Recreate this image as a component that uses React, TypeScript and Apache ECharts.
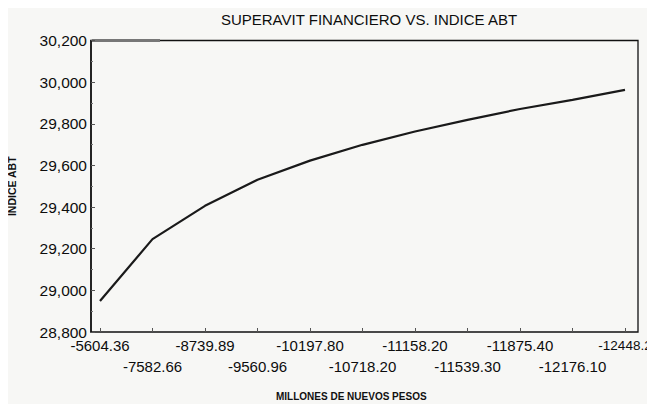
import React, { useEffect, useRef } from "react";
import * as echarts from "echarts";

const categories = [
  "-5604.36", "-7582.66", "-8739.89", "-9560.96", "-10197.80", "-10718.20",
  "-11158.20", "-11539.30", "-11875.40", "-12176.10", "-12448.2",
];
const indiceAbt = [28949, 29246, 29406, 29531, 29623, 29699, 29763, 29819, 29871, 29915, 29963];
const yMin = 28800;
const yMax = 30200;
const yStep = 200;

const FONT = "'Liberation Sans', Arial, sans-serif";

export default function App() {
  const ref = useRef<HTMLDivElement>(null);
  useEffect(() => {
    if (!ref.current) return;
    const chart = echarts.init(ref.current, undefined, { renderer: "svg" });
    const last = categories.length - 1;
    chart.setOption({
      animation: false,
      backgroundColor: "#f7f7f5",
      title: {
        text: "SUPERAVIT FINANCIERO VS. INDICE ABT",
        left: 364,
        top: 7,
        textAlign: "center",
        textStyle: { fontFamily: FONT, fontSize: 15, fontWeight: "normal", color: "#0d0d0d" },
      },
      grid: {
        left: 100,
        right: 30,
        top: 40.5,
        bottom: 80,
        containLabel: false,
        outerBoundsMode: "none",
      },
      xAxis: {
        type: "category",
        data: categories,
        boundaryGap: false,
        axisLine: { show: false },
        axisTick: { show: true, inside: true, length: 4, alignWithLabel: true, lineStyle: { color: "#555" } },
        axisLabel: {
          interval: 0,
          margin: 3,
          fontFamily: FONT,
          fontSize: 15,
          color: "#0d0d0d",
          lineHeight: 21,
          formatter: (v: string, i: number) =>
            i === last ? "{end|" + v + "}" : i % 2 === 1 ? "\n" + v : v,
          rich: {
            end: {
              fontFamily: FONT,
              fontSize: 13.5,
              color: "#0d0d0d",
              lineHeight: 21,
            },
          },
        },
        splitLine: { show: false },
      },
      yAxis: {
        type: "value",
        min: yMin,
        max: yMax,
        interval: yStep,
        offset: 9,
        name: "INDICE ABT",
        nameLocation: "middle",
        nameGap: 74,
        nameTextStyle: { fontFamily: FONT, fontSize: 10.5, fontWeight: "bold", color: "#111" },
        axisLine: { show: true, lineStyle: { color: "#111", width: 1.5 } },
        axisTick: { show: true, inside: true, length: 4, lineStyle: { color: "#555" } },
        minorTick: { show: true, splitNumber: 2, length: 2, lineStyle: { color: "#777" } },
        axisLabel: {
          fontFamily: FONT,
          fontSize: 15.5,
          color: "#0d0d0d",
          margin: 4,
          formatter: (v: number) => v.toLocaleString("en-US"),
        },
        splitLine: { show: false },
      },
      graphic: [
        {
          type: "rect",
          shape: { x: 91, y: 40.5, width: 547, height: 291.5 },
          style: { fill: "none", stroke: "#111", lineWidth: 1.3 },
          silent: true,
        },
        {
          type: "line",
          shape: { x1: 92, y1: 40.5, x2: 160, y2: 40.5 },
          style: { stroke: "#777", lineWidth: 3 },
          silent: true,
        },
        {
          type: "text",
          left: 276,
          top: 391,
          style: {
            text: "MILLONES DE NUEVOS PESOS",
            fontFamily: FONT,
            fontSize: 10,
            fontWeight: "bold",
            fill: "#111",
          },
        },
      ],
      series: [
        {
          type: "line",
          data: indiceAbt,
          showSymbol: false,
          lineStyle: { color: "#1a1a1a", width: 2.2 },
          clip: false,
        },
      ],
    });
    return () => chart.dispose();
  }, []);
  return <div ref={ref} style={{ width: 655, height: 412, margin: -8 }} />;
}
